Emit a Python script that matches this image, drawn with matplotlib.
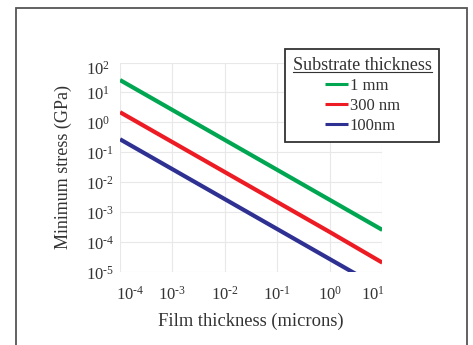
import matplotlib
matplotlib.use("Agg")
import matplotlib.pyplot as plt
import matplotlib.transforms as mtransforms
from matplotlib.patches import Rectangle
from matplotlib.lines import Line2D

plt.rcParams['font.family'] = ['Liberation Serif', 'DejaVu Serif']
plt.rcParams['mathtext.fontset'] = 'custom'
plt.rcParams['mathtext.rm'] = 'Liberation Serif'
plt.rcParams['mathtext.it'] = 'Liberation Serif:italic'

film_thickness = [1e-4, 1e-3, 1e-2, 1e-1, 1e0, 1e1]
stress_1mm = [26, 2.6, 0.26, 0.026, 0.0026, 0.00026]
stress_300nm = [2.2, 0.22, 0.022, 0.0022, 0.00022, 0.000021]
stress_100nm = [0.275, 0.0275, 0.00275, 0.000275, 0.0000275, 0.00000275]
series_labels = ['1 mm', '300 nm', '100nm']
series_colors = ['#00A651', '#ED1C24', '#2E3192']
legend_title = 'Substrate thickness'
x_ticks = [1e-4, 1e-3, 1e-2, 1e-1, 1e0, 1e1]
x_ticklabels = ['-4', '-3', '-2', '-1', '0', '1']
y_ticks = [1e-5, 1e-4, 1e-3, 1e-2, 1e-1, 1e0, 1e1, 1e2]
y_ticklabels = ['-5', '-4', '-3', '-2', '-1', '0', '1', '2']


def sci(e):
    if e.startswith('-'):
        return r'$\mathregular{10^{\text{-}%s}}$' % e[1:]
    return r'$\mathregular{10^{%s}}$' % e


fig = plt.figure(figsize=(4.73, 3.45), dpi=100)
ax = fig.add_axes([120/473, 1-272.3/345, (382.3-120)/473, (272.3-62.5)/345])

for ys, lab, col in zip([stress_1mm, stress_300nm, stress_100nm], series_labels, series_colors):
    ax.plot(film_thickness, ys, color=col, lw=3.0, label=lab, solid_capstyle='butt')

ax.set_xscale('log')
ax.set_yscale('log')
ax.set_xlim(1e-4, 1e1)
ax.set_ylim(1e-5, 1e2)
ax.set_xticks(x_ticks)
ax.set_xticklabels([sci(t) for t in x_ticklabels])
ax.set_yticks(y_ticks)
ax.set_yticklabels([sci(t) for t in y_ticklabels])
ax.minorticks_off()
ax.tick_params(length=0, labelsize=12, colors='#333333')
ax.tick_params(axis='x', pad=10)
ax.tick_params(axis='y', pad=24.5)
for lbl in ax.get_yticklabels():
    lbl.set_horizontalalignment('left')
for s in ax.spines.values():
    s.set_visible(False)
ax.grid(True, color='#e8e8e8', lw=0.8)
ax.set_axisbelow(True)
ax.set_xlabel('Film thickness (microns)', fontsize=13.3, color='#333333', labelpad=6)
ax.set_ylabel('Minimum stress (GPa)', fontsize=13, color='#333333')
ax.yaxis.set_label_coords(-0.183, 0.502)

# small hand-placed offsets of some tick labels, as in the reference
xl = ax.get_xticklabels()
xl[0].set_transform(xl[0].get_transform() + mtransforms.ScaledTranslation(10/100, 0, fig.dpi_scale_trans))
xl[-1].set_transform(xl[-1].get_transform() + mtransforms.ScaledTranslation(-9/100, 0, fig.dpi_scale_trans))
yl = ax.get_yticklabels()
yl[-1].set_transform(yl[-1].get_transform() + mtransforms.ScaledTranslation(0, -5/100, fig.dpi_scale_trans))

leg = ax.legend(loc='upper right', bbox_to_anchor=(439.3/473, 1-49/345),
                bbox_transform=fig.transFigure, borderaxespad=0,
                title=legend_title,
                fontsize=12, title_fontsize=13, handlelength=1.4, handletextpad=0.1,
                labelspacing=0.25, fancybox=False, framealpha=1, edgecolor='#333333',
                borderpad=0.45)
leg.get_frame().set_linewidth(1.3)
for line in leg.get_lines():
    line.set_linewidth(2.2)
for t in leg.get_texts():
    t.set_color('#333333')
leg.get_title().set_color('#333333')

fig.patches.append(Rectangle((16/473, -0.1), (467-16)/473, 1.1 - 7.5/345,
                             transform=fig.transFigure, fill=False,
                             edgecolor='#555555', lw=1.3))

fig.canvas.draw()
bb = leg.get_title().get_window_extent(fig.canvas.get_renderer())
W, H = fig.bbox.width, fig.bbox.height
uy = (bb.y0 + 1.5) / H
fig.add_artist(Line2D([bb.x0 / W, bb.x1 / W], [uy, uy], transform=fig.transFigure,
                      color='#333333', lw=0.8))

fig.savefig('out.png', dpi=100)
